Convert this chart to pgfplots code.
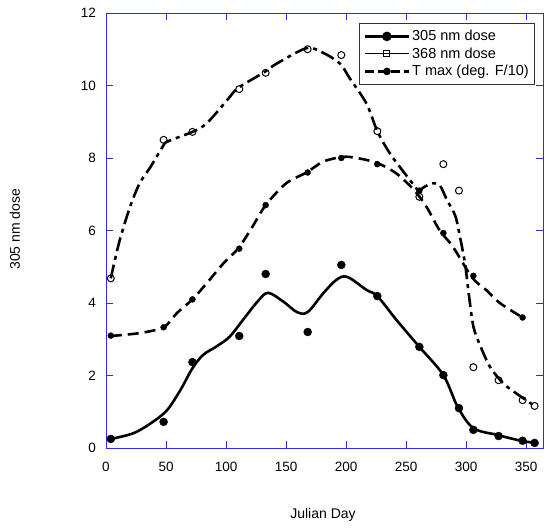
\documentclass[border=0pt]{standalone}
\usepackage{pgfplots}
\pgfplotsset{compat=1.18}
\usepackage{fontspec}
\setmainfont{Liberation Sans}
\definecolor{axblue}{RGB}{50,50,190}
\begin{document}
\begin{tikzpicture}
\path[use as bounding box] (0,0) rectangle (550pt,528pt);
\begin{axis}[
  at={(106pt,80pt)}, anchor=south west,
  scale only axis, width=437pt, height=435pt,
  xmin=0, xmax=364, ymin=0, ymax=12,
  xtick={0,50,...,350}, ytick={0,2,...,12},
  tick align=inside, major tick length=7pt,
  axis line style={axblue, line width=0.9pt},
  every tick/.style={axblue, line width=0.9pt},
  /pgf/number format/assume math mode=true,
  ticklabel style={font=\fontsize{13.5}{16}\selectfont, black},
  xticklabel style={yshift=-10.5pt},
  yticklabel style={xshift=-6.5pt},
  xlabel={Julian Day}, ylabel={305 nm dose},
  xlabel style={at={(axis description cs:0.4966,-0.1632)}, anchor=base, font=\fontsize{14}{16}\selectfont},
  ylabel style={at={(axis description cs:-0.1968,0.503)}, anchor=base, font=\fontsize{14}{16}\selectfont},
  legend cell align=left,
  legend image code/.code={\draw[mark repeat=2,mark phase=2,#1] plot coordinates {(0pt,0pt) (22pt,0pt) (44pt,0pt)};},
  legend style={at={(rel axis cs:0.982,0.977)}, anchor=north east, draw=black!80, line width=0.8pt,
    font=\fontsize{14.5}{16}\selectfont, row sep=1.5pt, inner xsep=4pt, inner ysep=5pt},
]
\addlegendimage{black, line width=2.5pt, mark=*, mark size=3.5pt}
\addlegendentry{305 nm dose}
\addlegendimage{black, line width=1pt, mark=square, mark size=3pt, mark options={fill=white}}
\addlegendentry{368 nm dose}
\addlegendimage{black, line width=2.5pt, dash pattern=on 9pt off 4pt, mark=*, mark size=2.5pt, mark options={solid}}
\addlegendentry{T max (deg. F/10)}

% 305 nm curve
\addplot[black, line width=2.6pt, smooth, tension=0.55, forget plot] coordinates {
(4,0.25) (23,0.41) (39,0.72) (51,1.05) (62,1.6) (72,2.2) (81,2.57) (92,2.8) (103,3.07)
(114,3.53) (126,4.03) (135,4.28) (148,4.03) (159,3.75) (168,3.75) (181,4.27) (192,4.64)
(201,4.72) (217,4.36) (226,4.19) (242,3.53) (261,2.79) (281,2.01) (293,1.13) (306,0.55)
(326,0.36) (347,0.19) (357,0.15)};
% 368 nm curve
\addplot[black, line width=2.6pt, dash pattern=on 14pt off 5pt on 4pt off 5pt, smooth, tension=0.5, forget plot] coordinates {
(4,4.68) (7.5,5.2) (12,5.8) (20,6.65) (28,7.3) (37,7.75) (47,8.3) (51,8.45) (72,8.72)
(84,8.96) (101,9.6) (110,9.93) (132,10.37) (142,10.6) (167,11.03) (181,10.9) (195,10.6)
(203,10.2) (217,9.5) (226,8.74) (237,8.1) (253,7.4) (260,7.12) (266,7.22) (272,7.3)
(278,7.25) (284,6.84) (291,6.4) (295,5.8) (299,5.1) (302,4.3) (306,3.35) (312,2.8)
(320,2.23) (331,1.78) (342,1.5) (357,1.16)};
% T max curve
\addplot[black, line width=2.6pt, dash pattern=on 11pt off 6pt, smooth, tension=0.5, forget plot] coordinates {
(4,3.09) (28,3.17) (48,3.33) (59,3.72) (72,4.1) (84,4.55) (98,5.1) (110,5.5) (121,6.05)
(133,6.7) (150,7.3) (167,7.6) (181,7.9) (197,8.03) (209,8.0) (226,7.86) (242,7.57)
(257,7.1) (267,6.65) (278,6.0) (289,5.55) (305,4.7) (317,4.35) (328,4.0) (347,3.6)};

% points
\addplot[only marks, mark=*, mark size=4pt, black, forget plot] coordinates {
(4,0.25) (48,0.72) (72,2.37) (111,3.09) (133,4.8) (168,3.2) (196,5.05) (226,4.19)
(261,2.79) (281,2.01) (294,1.1) (306,0.5) (327,0.33) (347,0.2) (357,0.14)};
\addplot[only marks, mark=o, mark size=3.5pt, black, mark options={fill=white, line width=1pt}, forget plot] coordinates {
(4,4.68) (48,8.5) (72,8.72) (111,9.9) (133,10.35) (168,11.0) (196,10.84) (226,8.74)
(261,6.93) (281,7.83) (294,7.1) (306,2.23) (327,1.87) (347,1.32) (357,1.16)};
\addplot[only marks, mark=*, mark size=3pt, black, forget plot] coordinates {
(4,3.1) (48,3.33) (72,4.1) (111,5.5) (133,6.7) (168,7.6) (196,8.0) (226,7.83)
(261,7.1) (281,5.93) (306,4.75) (347,3.6)};
\end{axis}
\end{tikzpicture}
\end{document}
